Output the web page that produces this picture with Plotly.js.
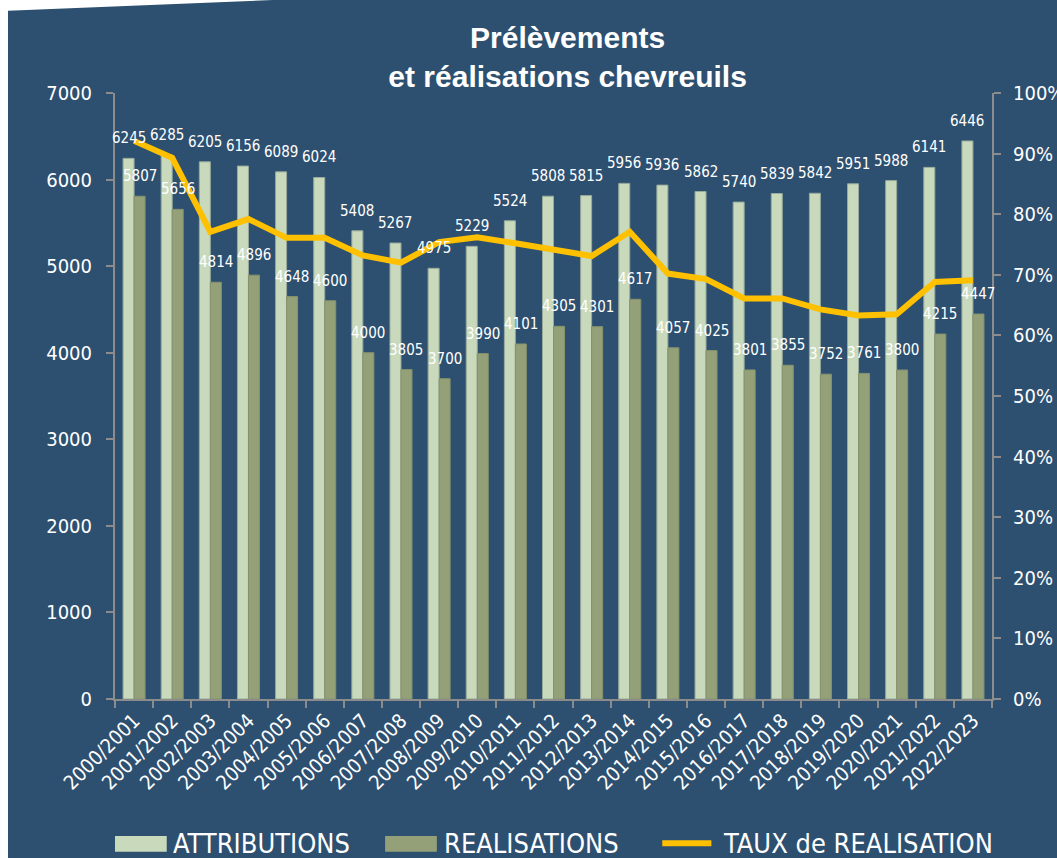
<!DOCTYPE html>
<html>
<head>
<meta charset="utf-8">
<script src="https://cdn.plot.ly/plotly-3.0.1.min.js"></script>
<style>
  html, body { margin: 0; padding: 0; background: #ffffff; }
  #chart { width: 1057px; height: 858px; }
</style>
</head>
<body>
<div id="chart"></div>
<script>
const seasons = ["2000/2001","2001/2002","2002/2003","2003/2004","2004/2005","2005/2006","2006/2007","2007/2008","2008/2009","2009/2010","2010/2011","2011/2012","2012/2013","2013/2014","2014/2015","2015/2016","2016/2017","2017/2018","2018/2019","2019/2020","2020/2021","2021/2022","2022/2023"];
const attributions = [6245,6285,6205,6156,6089,6024,5408,5267,4975,5229,5524,5808,5815,5956,5936,5862,5740,5839,5842,5951,5988,6141,6446];
const realisations = [5807,5656,4814,4896,4648,4600,4000,3805,3700,3990,4101,4305,4301,4617,4057,4025,3801,3855,3752,3761,3800,4215,4447];
const tauxRealisation = [0.921,0.893,0.771,0.792,0.761,0.761,0.732,0.720,0.754,0.762,0.752,0.741,0.731,0.771,0.702,0.693,0.661,0.661,0.643,0.633,0.635,0.688,0.691];

const BG = "#2e5070";
const ATT_COLOR = "#c9d9bb";
const REA_COLOR = "#94a077";
const LINE_COLOR = "#ffc000";
const AXIS_COLOR = "#8c8c8c";
const LABEL_FONT = "'DejaVu Sans Condensed', 'Roboto Condensed', Roboto, 'DejaVu Sans', sans-serif";

const traces = [
  {
    type: "bar", name: "ATTRIBUTIONS", x: seasons, y: attributions,
    marker: { color: ATT_COLOR, line: { color: "#98aa9c", width: 1 } },
    hoverinfo: "x+y"
  },
  {
    type: "bar", name: "REALISATIONS", x: seasons, y: realisations,
    marker: { color: REA_COLOR, line: { color: "#86926c", width: 1 } },
    hoverinfo: "x+y"
  },
  {
    type: "scatter", mode: "lines", name: "TAUX de REALISATION", x: seasons, y: tauxRealisation,
    yaxis: "y2", line: { color: LINE_COLOR, width: 6 }, hoverinfo: "x+y"
  }
];

const annotations = [];
seasons.forEach((s, i) => {
  annotations.push({
    x: s, y: attributions[i], xref: "x", yref: "y", text: String(attributions[i]),
    showarrow: false, xshift: -5.5, yshift: 20,
    font: { family: LABEL_FONT, size: 15, color: "#ffffff" }
  });
  annotations.push({
    x: s, y: realisations[i], xref: "x", yref: "y", text: String(realisations[i]),
    showarrow: false, xshift: 5.5, yshift: 20,
    font: { family: LABEL_FONT, size: 15, color: "#ffffff" }
  });
});

// custom legend texts
const legendFont = { family: LABEL_FONT, size: 27, color: "#ffffff" };
annotations.push({ xref: "paper", yref: "paper", x: 0.064, y: -0.239, xanchor: "left", yanchor: "middle", text: "ATTRIBUTIONS", showarrow: false, font: legendFont });
annotations.push({ xref: "paper", yref: "paper", x: 0.373, y: -0.239, xanchor: "left", yanchor: "middle", text: "REALISATIONS", showarrow: false, font: legendFont });
annotations.push({ xref: "paper", yref: "paper", x: 0.691, y: -0.239, xanchor: "left", yanchor: "middle", text: "TAUX de REALISATION", showarrow: false, font: legendFont });

const shapes = [
  // white corner / strip of the background image
  { type: "path", xref: "paper", yref: "paper", path: "M -0.1311 1.1535 L 0.1802 1.1535 L -0.122 1.1358 L -0.1311 1.1358 Z", fillcolor: "#ffffff", line: { width: 0 }, layer: "below" },
  { type: "rect", xref: "paper", yref: "paper", x0: -0.1311, x1: -0.122, y0: -0.2624, y1: 1.1535, fillcolor: "#ffffff", line: { width: 0 }, layer: "below" },
  // legend symbols
  { type: "rect", xref: "paper", yref: "paper", x0: 0.0, x1: 0.059, y0: -0.252, y1: -0.226, fillcolor: ATT_COLOR, line: { width: 0 } },
  { type: "rect", xref: "paper", yref: "paper", x0: 0.308, x1: 0.367, y0: -0.252, y1: -0.226, fillcolor: REA_COLOR, line: { width: 0 } },
  { type: "line", xref: "paper", yref: "paper", x0: 0.624, x1: 0.680, y0: -0.238, y1: -0.238, line: { color: LINE_COLOR, width: 6 } }
];

const layout = {
  width: 1057, height: 858,
  paper_bgcolor: BG, plot_bgcolor: "rgba(0,0,0,0)",
  margin: { l: 115, r: 65, t: 93, b: 159 },
  showlegend: false,
  barmode: "group", bargap: 0.423, bargroupgap: 0,
  title: {
    text: "Prélèvements<br>et réalisations chevreuils",
    font: { family: "'Liberation Sans', Arial, sans-serif", size: 30, color: "#ffffff", weight: "bold" },
    xref: "container", x: 0.537, xanchor: "center",
    yref: "container", y: 0.944, yanchor: "top"
  },
  xaxis: {
    type: "category", range: [-0.5, seasons.length - 0.5], autorange: false,
    tickangle: -45, ticks: "outside", tickson: "boundaries",
    ticklen: 7, tickcolor: AXIS_COLOR, tickwidth: 2,
    showline: true, linecolor: AXIS_COLOR, linewidth: 2, showgrid: false,
    tickfont: { family: LABEL_FONT, size: 20, color: "#ffffff" },
    fixedrange: true
  },
  yaxis: {
    range: [0, 7000], autorange: false, dtick: 1000, tick0: 0, ticks: "outside", ticklen: 7,
    tickcolor: AXIS_COLOR, tickwidth: 2, showline: true, linecolor: AXIS_COLOR, linewidth: 2,
    showgrid: false, zeroline: false, ticklabelstandoff: 10,
    tickfont: { family: LABEL_FONT, size: 20, color: "#ffffff" }
  },
  yaxis2: {
    overlaying: "y", side: "right", range: [0, 1], autorange: false, dtick: 0.1, tick0: 0, tickformat: ".0%",
    ticks: "outside", ticklen: 7, tickcolor: AXIS_COLOR, tickwidth: 2,
    showline: true, linecolor: AXIS_COLOR, linewidth: 2, showgrid: false, zeroline: false,
    ticklabelstandoff: 8,
    tickfont: { family: LABEL_FONT, size: 20, color: "#ffffff" }
  },
  annotations: annotations,
  shapes: shapes
};

Plotly.newPlot("chart", traces, layout, { displayModeBar: false, responsive: false });
</script>
</body>
</html>
